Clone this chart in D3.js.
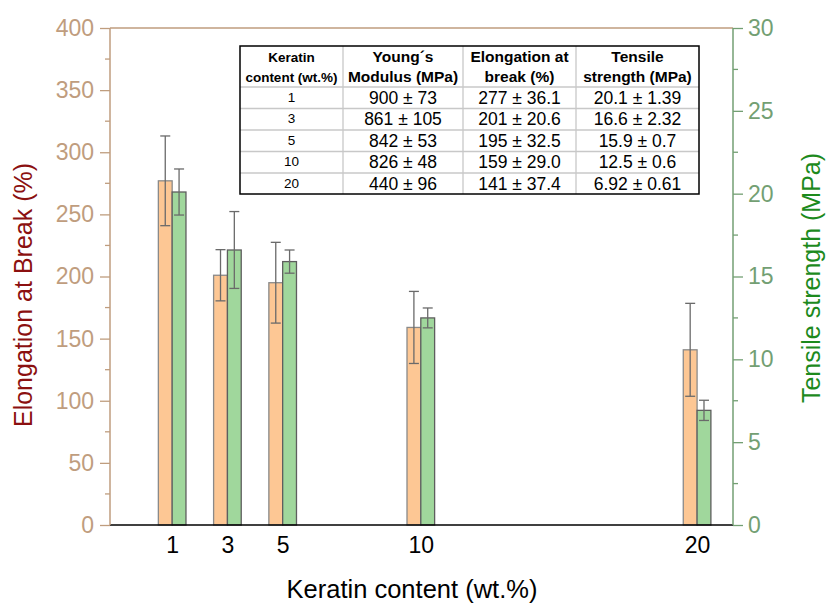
<!DOCTYPE html>
<html>
<head>
<meta charset="utf-8">
<script src="https://cdn.jsdelivr.net/npm/d3@7"></script>
<style>
  body { margin: 0; background: #fff; }
  text { font-family: "Liberation Sans", Arial, sans-serif; }
</style>
</head>
<body>
<div id="chart"></div>
<script>
var content = [1, 3, 5, 10, 20];
var elongation = [277, 201, 195, 159, 141];
var elongationErr = [36.1, 20.6, 32.5, 29.0, 37.4];
var tensile = [20.1, 16.6, 15.9, 12.5, 6.92];
var tensileErr = [1.39, 2.32, 0.7, 0.6, 0.61];
var leftTicks = [0, 50, 100, 150, 200, 250, 300, 350, 400];
var rightTicks = [0, 5, 10, 15, 20, 25, 30];

var tableHead = [["Keratin", "content (wt.%)"], ["Young´s", "Modulus (MPa)"], ["Elongation at", "break (%)"], ["Tensile", "strength (MPa)"]];
var tableRows = [
  ["1", "900 ± 73", "277 ± 36.1", "20.1 ± 1.39"],
  ["3", "861 ± 105", "201 ± 20.6", "16.6 ± 2.32"],
  ["5", "842 ± 53", "195 ± 32.5", "15.9 ± 0.7"],
  ["10", "826 ± 48", "159 ± 29.0", "12.5 ± 0.6"],
  ["20", "440 ± 96", "141 ± 37.4", "6.92 ± 0.61"]
];

var W = 826, H = 605;
var pLeft = 110, pRight = 733, pTop = 28, pBottom = 525;
var tan = "#bf9d7e", green = "#739f73";

var svg = d3.select("#chart").append("svg")
  .attr("width", W)
  .attr("height", H);

var x = d3.scaleLinear().domain([-1.25, 21.3]).range([pLeft, pRight]);
var yL = d3.scaleLinear().domain([0, 400]).range([pBottom, pTop]);
var yR = d3.scaleLinear().domain([0, 30]).range([pBottom, pTop]);
var bw = x(0.5) - x(0);

// bars
svg.selectAll("rect.el").data(content).enter().append("rect")
  .attr("class", "el")
  .attr("x", function(d){ return x(d) - bw; })
  .attr("y", function(d, i){ return yL(elongation[i]); })
  .attr("width", bw)
  .attr("height", function(d, i){ return pBottom - yL(elongation[i]); })
  .attr("fill", "#fdc794")
  .attr("stroke", "#8a8a8a")
  .attr("stroke-width", 1.3);

svg.selectAll("rect.ts").data(content).enter().append("rect")
  .attr("class", "ts")
  .attr("x", function(d){ return x(d); })
  .attr("y", function(d, i){ return yR(tensile[i]); })
  .attr("width", bw)
  .attr("height", function(d, i){ return pBottom - yR(tensile[i]); })
  .attr("fill", "#a0d79c")
  .attr("stroke", "#5e5e5e")
  .attr("stroke-width", 1.3);

// error bars
function errBars(vals, errs, y, off){
  var g = svg.append("g").attr("stroke", "#6a6a6a").attr("stroke-width", 1.3);
  content.forEach(function(d, i){
    var cx = x(d) + off;
    var y1 = y(vals[i] + errs[i]), y0 = y(vals[i] - errs[i]);
    g.append("line").attr("x1", cx).attr("x2", cx).attr("y1", y1).attr("y2", y0);
    g.append("line").attr("x1", cx - 5).attr("x2", cx + 5).attr("y1", y1).attr("y2", y1);
    g.append("line").attr("x1", cx - 5).attr("x2", cx + 5).attr("y1", y0).attr("y2", y0);
  });
}
errBars(elongation, elongationErr, yL, -bw / 2);
errBars(tensile, tensileErr, yR, bw / 2);

// frame
svg.append("line").attr("x1", pLeft).attr("x2", pRight).attr("y1", pTop).attr("y2", pTop)
  .attr("stroke", tan).attr("stroke-width", 1.5);
svg.append("line").attr("x1", pLeft).attr("x2", pRight).attr("y1", pBottom).attr("y2", pBottom)
  .attr("stroke", "#000").attr("stroke-width", 1.5);

var tickFont = "23px";

// left axis
var gl = svg.append("g").attr("transform", "translate(" + pLeft + ",0)")
  .call(d3.axisLeft(yL).tickValues(leftTicks).tickSize(10).tickPadding(6));
gl.append("g").selectAll("line").data(d3.range(25, 400, 50)).enter().append("line")
  .attr("x1", -5).attr("x2", 0)
  .attr("y1", function(d){ return yL(d); }).attr("y2", function(d){ return yL(d); });
gl.selectAll("line").attr("stroke", tan).attr("stroke-width", 1.3);
gl.select(".domain").attr("stroke", tan).attr("stroke-width", 1.5).attr("d", "M0," + pTop + "V" + pBottom);
gl.selectAll("text").attr("fill", tan).style("font-size", tickFont).style("font-family", "Liberation Sans, Arial, sans-serif");

// right axis
var gr = svg.append("g").attr("transform", "translate(" + pRight + ",0)")
  .call(d3.axisRight(yR).tickValues(rightTicks).tickSize(10).tickPadding(5));
gr.append("g").selectAll("line").data(d3.range(2.5, 30, 5)).enter().append("line")
  .attr("x1", 0).attr("x2", 5)
  .attr("y1", function(d){ return yR(d); }).attr("y2", function(d){ return yR(d); });
gr.selectAll("line").attr("stroke", green).attr("stroke-width", 1.3);
gr.select(".domain").attr("stroke", green).attr("stroke-width", 1.5).attr("d", "M0," + pTop + "V" + pBottom);
gr.selectAll("text").attr("fill", green).style("font-size", tickFont).style("font-family", "Liberation Sans, Arial, sans-serif");

// bottom axis labels
var gb = svg.append("g").attr("transform", "translate(0," + pBottom + ")")
  .call(d3.axisBottom(x).tickValues(content).tickSize(0).tickPadding(12).tickFormat(d3.format("d")));
gb.select(".domain").remove();
gb.selectAll("text").attr("fill", "#000").style("font-size", tickFont).style("font-family", "Liberation Sans, Arial, sans-serif");

// axis titles
svg.append("text").attr("transform", "translate(32,295) rotate(-90)")
  .attr("text-anchor", "middle").attr("fill", "#8b1010").style("font-size", "25px")
  .text("Elongation at Break (%)");
svg.append("text").attr("transform", "translate(820,278) rotate(-90)")
  .attr("text-anchor", "middle").attr("fill", "#1d8a1d").style("font-size", "25px")
  .text("Tensile strength (MPa)");
svg.append("text").attr("x", 412).attr("y", 598)
  .attr("text-anchor", "middle").attr("fill", "#000").style("font-size", "25.5px")
  .text("Keratin content (wt.%)");

// table
var colX = [240, 343, 463, 576, 699];
var rowY = [46, 87, 108.5, 130, 151.5, 173, 194];
var tb = svg.append("g");
tb.append("rect").attr("x", colX[0]).attr("y", rowY[0])
  .attr("width", colX[4] - colX[0]).attr("height", rowY[6] - rowY[0])
  .attr("fill", "#fff");
for (var c = 1; c < 4; c++){
  tb.append("line").attr("x1", colX[c]).attr("x2", colX[c]).attr("y1", rowY[0]).attr("y2", rowY[6])
    .attr("stroke", "#c8c8c8").attr("stroke-width", 1.3);
}
for (var r = 1; r < 6; r++){
  tb.append("line").attr("x1", colX[0]).attr("x2", colX[4]).attr("y1", rowY[r]).attr("y2", rowY[r])
    .attr("stroke", "#c8c8c8").attr("stroke-width", 1.3);
}
tb.append("rect").attr("x", colX[0]).attr("y", rowY[0])
  .attr("width", colX[4] - colX[0]).attr("height", rowY[6] - rowY[0])
  .attr("fill", "none").attr("stroke", "#000").attr("stroke-width", 1.5);

tableHead.forEach(function(h, c){
  var cx = (colX[c] + colX[c + 1]) / 2;
  var fs = c === 0 ? 13.5 : 15.5;
  h.forEach(function(line, k){
    tb.append("text").attr("x", cx).attr("y", rowY[0] + 16 + k * 20)
      .attr("text-anchor", "middle").attr("font-weight", "bold")
      .style("font-size", fs + "px").text(line);
  });
});
tableRows.forEach(function(row, r){
  row.forEach(function(v, c){
    var cx = (colX[c] + colX[c + 1]) / 2;
    tb.append("text").attr("x", cx).attr("y", rowY[r + 1] + (c === 0 ? 14.5 : 16.5))
      .attr("text-anchor", "middle")
      .style("font-size", c === 0 ? "13.5px" : "17.5px").text(v);
  });
});
</script>
</body>
</html>
